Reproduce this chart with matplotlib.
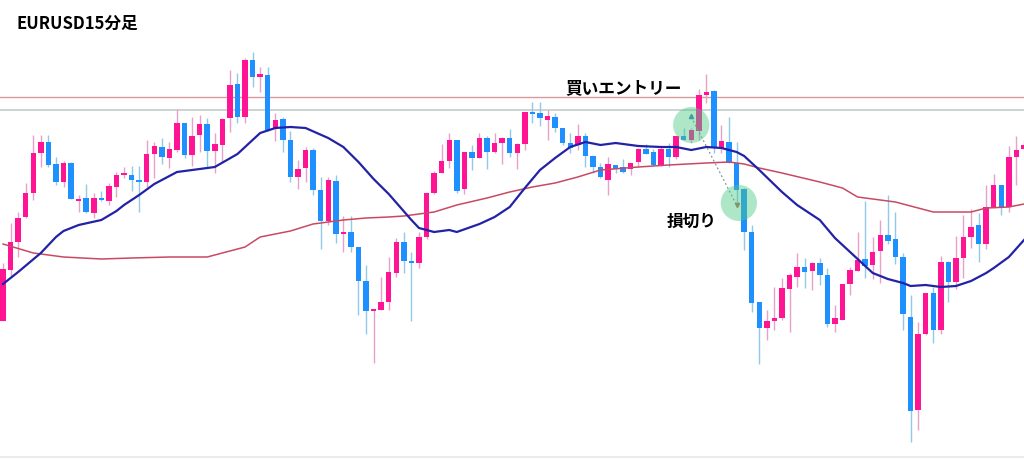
import numpy as np
import matplotlib
matplotlib.use("Agg")
from matplotlib import pyplot as plt
from matplotlib.patches import Ellipse

plt.rcParams['font.family'] = ['Noto Sans CJK JP', 'DejaVu Sans']

# EURUSD 15min candles, price in points above a base level
opens = [139, 190, 218, 243, 267, 307, 318, 296, 278, 297, 259, 262, 247, 261, 259, 273, 285, 285, 279, 278,
         306, 313, 302, 310, 337, 305, 325, 336, 309, 315, 342, 376, 343, 400, 383, 385, 331, 341, 320, 283,
         292, 310, 270, 239, 279, 226, 228, 213, 179, 149, 150, 158, 187, 218, 199, 197, 223, 267, 287, 299,
         320, 271, 308, 302, 322, 308, 317, 322, 307, 316, 347, 347, 340, 343, 332, 317, 315, 324, 304, 293,
         280, 295, 293, 291, 298, 311, 308, 295, 311, 303, 324, 320, 329, 365, 369, 312, 318, 297, 271, 228,
         158, 132, 139, 142, 171, 183, 193, 189, 197, 185, 136, 140, 176, 189, 201, 195, 209, 225, 221, 203,
         143, 50, 126, 167, 130, 198, 178, 202, 223, 235, 216, 253, 275, 253, 303, 311]
highs = [197, 237, 248, 277, 325, 325, 325, 303, 299, 298, 265, 276, 267, 269, 277, 288, 293, 294, 294, 320,
         318, 322, 318, 351, 337, 343, 345, 342, 327, 342, 390, 387, 402, 408, 393, 393, 347, 343, 329, 300,
         313, 312, 283, 283, 285, 244, 244, 213, 195, 150, 183, 203, 222, 228, 208, 228, 268, 289, 316, 327,
         320, 308, 315, 327, 324, 327, 323, 331, 317, 348, 358, 358, 350, 347, 332, 327, 336, 327, 305, 297,
         303, 295, 301, 297, 312, 316, 311, 313, 317, 324, 332, 332, 371, 386, 370, 335, 343, 318, 272, 235,
         158, 150, 173, 182, 187, 207, 202, 198, 202, 192, 155, 176, 193, 228, 259, 223, 240, 265, 248, 207,
         165, 138, 167, 173, 204, 199, 224, 245, 251, 247, 275, 286, 275, 314, 324, 320]
lows = [139, 183, 203, 242, 260, 293, 293, 275, 273, 261, 248, 247, 242, 259, 255, 263, 282, 269, 248, 273,
        282, 296, 292, 308, 302, 294, 308, 293, 287, 298, 328, 337, 337, 373, 368, 329, 319, 308, 278, 271,
        278, 265, 211, 235, 217, 208, 208, 145, 126, 97, 150, 150, 183, 187, 139, 192, 221, 266, 287, 292,
        267, 266, 290, 302, 291, 307, 296, 303, 291, 310, 337, 334, 320, 328, 315, 307, 310, 293, 287, 282,
        265, 287, 287, 285, 293, 306, 294, 294, 293, 301, 320, 317, 320, 357, 307, 307, 297, 257, 210, 148,
        96, 120, 130, 140, 128, 173, 172, 170, 175, 133, 128, 140, 165, 189, 182, 181, 177, 216, 196, 130,
        18, 30, 125, 117, 126, 158, 171, 182, 212, 198, 211, 252, 245, 248, 275, 310]
closes = [191, 218, 242, 267, 307, 318, 295, 278, 297, 261, 261, 248, 262, 260, 274, 285, 287, 280, 278, 306,
          314, 303, 311, 337, 305, 324, 336, 309, 316, 341, 375, 343, 400, 383, 386, 330, 340, 320, 283, 291,
          310, 270, 239, 280, 226, 228, 213, 179, 149, 150, 158, 188, 218, 199, 197, 223, 267, 287, 299, 320,
          269, 308, 302, 322, 308, 317, 322, 307, 316, 348, 346, 342, 344, 332, 317, 312, 324, 304, 293, 283,
          296, 291, 288, 297, 311, 306, 295, 311, 303, 324, 320, 330, 365, 368, 312, 319, 297, 270, 228, 157,
          132, 139, 142, 172, 185, 193, 188, 197, 185, 136, 142, 176, 190, 200, 194, 208, 225, 219, 203, 146,
          49, 126, 167, 130, 198, 178, 202, 223, 233, 216, 253, 275, 253, 303, 310, 315]

# moving averages (candle index, level)
ma_short_idx = [0, 2, 5, 7, 8, 10, 13, 15, 16, 18, 20, 23, 26, 28, 31, 34, 36, 38, 40, 43, 45, 47, 49, 51,
                54, 55, 57, 59, 60, 63, 65, 67, 69, 71, 73, 75, 77, 79, 81, 84, 87, 89, 91, 93, 95, 97, 98,
                100, 103, 105, 108, 110, 113, 115, 117, 119, 120, 122, 124, 126, 128, 130, 131, 133, 135]
ma_short = [176, 188, 207, 223, 229, 235, 240, 249, 255, 265, 276, 288, 291, 293, 306, 327, 332, 333, 332, 322,
            313, 298, 281, 266, 240, 232, 228, 230, 228, 236, 243, 253, 272, 290, 302, 313, 318, 315, 317, 314,
            313, 313, 310, 313, 312, 308, 304, 290, 268, 255, 240, 222, 201, 187, 181, 177, 174, 175, 173, 174,
            179, 187, 192, 203, 220]
ma_long_idx = [0, 4, 8, 13, 17, 22, 26, 27, 29, 32, 34, 38, 41, 45, 48, 51, 53, 57, 60, 64, 67, 70, 73, 76,
               79, 84, 88, 93, 96, 98, 100, 103, 108, 111, 113, 118, 121, 123, 126, 128, 130, 133, 135]
ma_long = [216, 207, 203, 201, 202, 203, 203, 203, 207, 213, 223, 229, 236, 240, 242, 243, 244, 248, 255, 262,
           268, 273, 277, 283, 290, 293, 295, 297, 298, 296, 292, 287, 278, 272, 263, 258, 252, 248, 248, 248,
           252, 253, 256]

# horizontal levels
resistance = 363
support = 350

# trade: buy entry and stop loss
entry_idx, entry_price = 91, 343
exit_idx, exit_price = 97, 255

up_col = '#ff1493'
dn_col = '#1e90ff'
up_wick = '#e8a2c8'
dn_wick = '#92c8ea'

fig = plt.figure(figsize=(10.24, 4.59), dpi=100)
ax = fig.add_axes([0, 0, 1, 1])

x = np.arange(len(opens))
o = np.array(opens, dtype=float)
c = np.array(closes, dtype=float)
up = c >= o

# wicks
ax.vlines(x[up], np.array(lows)[up], np.array(highs)[up], color=up_wick, linewidth=1.0, zorder=2)
ax.vlines(x[~up], np.array(lows)[~up], np.array(highs)[~up], color=dn_wick, linewidth=1.0, zorder=2)
# bodies (small minimum so dojis still show)
body = np.where(np.abs(c - o) < 2, 2, np.abs(c - o))
bottom = np.minimum(o, c)
ax.bar(x, body, bottom=bottom, width=0.72, color=np.where(up, up_col, dn_col), linewidth=0, zorder=3)

ax.axhline(resistance, color='#d89a9a', linewidth=1.0, zorder=1)
ax.axhline(support, color='#c4cccc', linewidth=1.2, zorder=1)
ax.axhline(3, color='#ebebeb', linewidth=1.5, zorder=1)

ax.plot(ma_long_idx, ma_long, color='#c84a62', linewidth=1.1, zorder=4)
ax.plot(ma_short_idx, ma_short, color='#2222a6', linewidth=1.6, zorder=4)

# trade marks
ax.plot([entry_idx, exit_idx], [entry_price, exit_price], color='#7a96a6', linewidth=0.9,
        linestyle=(0, (1.5, 2)), zorder=5)
ax.plot(entry_idx, entry_price + 1, marker='^', markersize=3, color='#3a7ab0', zorder=6)
ax.plot(exit_idx, exit_price, marker='v', markersize=3, color='#b07040', zorder=6)

ax.add_patch(Ellipse((entry_idx, entry_price - 8), 4.8, 36, facecolor='#4cc987', alpha=0.45,
                     edgecolor='none', zorder=7))
ax.add_patch(Ellipse((exit_idx + 0.3, exit_price + 2), 4.8, 36, facecolor='#4cc987', alpha=0.45,
                     edgecolor='none', zorder=7))

ax.text(82.0, 372, '買いエントリー', fontsize=12, fontweight='bold', ha='center', va='center', zorder=8)
ax.text(91.0, 238, '損切り', fontsize=12, fontweight='bold', ha='center', va='center', zorder=8)
fig.text(16 / 1024, 1 - 24 / 459, 'EURUSD15分足', fontsize=12, fontweight='bold', ha='left', va='center')

ax.set_xlim(-0.4, 135.0)
ax.set_ylim(1, 460)
ax.axis('off')

fig.savefig('out.png', dpi=100)
